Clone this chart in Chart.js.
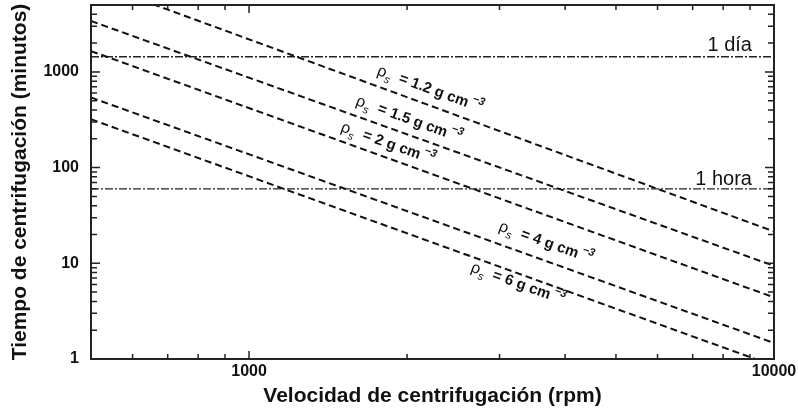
<!DOCTYPE html>
<html lang="es">
<head>
    <meta charset="UTF-8">
    <title>Tiempo de centrifugación</title>
    <script src="https://cdn.jsdelivr.net/npm/chart.js@4"></script>
    <style>
        body { margin: 0; background: #fff; }
        canvas { display: block; }
    </style>
</head>
<body>
    <canvas id="grafico" width="798" height="414"></canvas>

    <script>
        // velocidad (rpm) en los extremos del eje
        const rpm = [500, 10000];
        const t12 = [8800, 21.5];
        const t15 = [3400, 9.4];
        const t20 = [1650, 4.4];
        const t40 = [540, 1.47];
        const t60 = [320, 0.85];
        const densidades = ['1.2', '1.5', '2', '4', '6'];

        // lineas de referencia
        const refTiempos = [1440, 60];
        const refTextos = ['1 día', '1 hora'];

        // posicion (datos) de las etiquetas
        const etiquetaRpm = [2213, 2017, 1840, 3679, 3253];
        const etiquetaMin = [656, 318, 178, 16.4, 6.1];
        const refEtiquetaRpm = [9080, 9080];
        const refEtiquetaMin = [1640, 66.4];

        const xMayores = [1000, 10000];
        const yMayores = [1, 10, 100, 1000];

        const FUENTE = '"Liberation Sans", Arial, sans-serif';
        const series = [t12, t15, t20, t40, t60];

        const datasets = series.map((t, i) => ({
            label: densidades[i],
            data: rpm.map((r, j) => ({ x: r, y: t[j] })),
            borderColor: '#111',
            borderWidth: 2,
            borderDash: [7, 4],
            pointRadius: 0,
            fill: false
        }));
        refTiempos.forEach((v, i) => {
            datasets.push({
                label: refTextos[i],
                data: rpm.map(r => ({ x: r, y: v })),
                borderColor: '#222',
                borderWidth: 1.3,
                borderDash: [8, 2, 2, 2],
                pointRadius: 0,
                fill: false
            });
        });

        function menores(min, max) {
            const out = [];
            for (let d = 1; d <= max; d *= 10) {
                for (let k = 1; k < 10; k++) {
                    const v = k * d;
                    if (v >= min && v <= max) out.push(v);
                }
            }
            return out;
        }

        const marco = {
            id: 'marco',
            afterDraw(chart) {
                const ctx = chart.ctx;
                const a = chart.chartArea;
                const sx = chart.scales.x, sy = chart.scales.y;
                ctx.save();
                ctx.strokeStyle = '#222';
                ctx.lineWidth = 1.5;
                // marcas del eje x (abajo y arriba, hacia dentro)
                menores(500, 10000).forEach(v => {
                    const x = sx.getPixelForValue(v);
                    const l = xMayores.includes(v) ? 8 : 5;
                    ctx.beginPath();
                    ctx.moveTo(x, a.bottom); ctx.lineTo(x, a.bottom - l);
                    ctx.moveTo(x, a.top); ctx.lineTo(x, a.top + l);
                    ctx.stroke();
                });
                menores(1, 5000).forEach(v => {
                    const y = sy.getPixelForValue(v);
                    const l = yMayores.includes(v) ? 9 : 6;
                    ctx.beginPath();
                    ctx.moveTo(a.left, y); ctx.lineTo(a.left + l, y);
                    ctx.moveTo(a.right, y); ctx.lineTo(a.right - l, y);
                    ctx.stroke();
                });
                ctx.lineWidth = 2;
                ctx.strokeRect(a.left, a.top, a.right - a.left, a.bottom - a.top);

                // etiquetas de densidad a lo largo de las rectas
                series.forEach((t, i) => {
                    const x0 = sx.getPixelForValue(rpm[0]), y0 = sy.getPixelForValue(t[0]);
                    const x1 = sx.getPixelForValue(rpm[1]), y1 = sy.getPixelForValue(t[1]);
                    const ang = Math.atan2(y1 - y0, x1 - x0);
                    const px = sx.getPixelForValue(etiquetaRpm[i]);
                    const py = sy.getPixelForValue(etiquetaMin[i]);
                    const partes = [
                        { s: 'ρ', f: '16px ' + FUENTE, dy: 0 },
                        { s: 's', f: 'italic 11px ' + FUENTE, dy: 6 },
                        { s: '  = ' + densidades[i] + ' g cm', f: 'bold 15px ' + FUENTE, dy: 0 },
                        { s: ' −3', f: 'italic bold 11px ' + FUENTE, dy: -6 }
                    ];
                    let w = 0;
                    partes.forEach(p => { ctx.font = p.f; p.w = ctx.measureText(p.s).width; w += p.w; });
                    ctx.save();
                    ctx.translate(px, py);
                    ctx.rotate(ang);
                    ctx.fillStyle = '#111';
                    ctx.textBaseline = 'middle';
                    let cx = -w / 2;
                    partes.forEach(p => {
                        ctx.font = p.f;
                        ctx.fillText(p.s, cx, p.dy);
                        cx += p.w;
                    });
                    ctx.restore();
                });

                // textos de las lineas de referencia
                ctx.fillStyle = '#111';
                ctx.font = '20px ' + FUENTE;
                ctx.textAlign = 'right';
                ctx.textBaseline = 'alphabetic';
                refTextos.forEach((txt, i) => {
                    ctx.fillText(txt, sx.getPixelForValue(refEtiquetaRpm[i]), sy.getPixelForValue(refEtiquetaMin[i]));
                });
                ctx.restore();
            }
        };

        new Chart(document.getElementById('grafico'), {
            type: 'line',
            data: { datasets: datasets },
            plugins: [marco],
            options: {
                responsive: false,
                animation: false,
                layout: { padding: { top: 5, right: 24, left: 0, bottom: 0 } },
                plugins: { legend: { display: false }, tooltip: { enabled: false } },
                scales: {
                    x: {
                        type: 'logarithmic',
                        min: 500,
                        max: 10000,
                        grid: { display: false, drawTicks: false },
                        border: { display: false },
                        afterBuildTicks: s => { s.ticks = xMayores.map(v => ({ value: v })); },
                        afterFit: s => { s.height = 55; s.paddingLeft = 0; s.paddingRight = 0; },
                        ticks: {
                            color: '#111',
                            font: { family: FUENTE, size: 16, weight: 'bold' },
                            padding: 3,
                            maxRotation: 0,
                            autoSkip: false,
                            callback: v => String(v)
                        },
                        title: {
                            display: true,
                            text: 'Velocidad de centrifugación (rpm)',
                            color: '#111',
                            font: { family: FUENTE, size: 21, weight: 'bold' },
                            padding: { top: 0, bottom: 5 }
                        }
                    },
                    y: {
                        type: 'logarithmic',
                        min: 1,
                        max: 5000,
                        grid: { display: false, drawTicks: false },
                        border: { display: false },
                        afterBuildTicks: s => { s.ticks = yMayores.map(v => ({ value: v })); },
                        afterFit: s => { s.width = 91; s.paddingTop = 0; s.paddingBottom = 0; },
                        ticks: {
                            color: '#111',
                            font: { family: FUENTE, size: 16, weight: 'bold' },
                            padding: 12,
                            autoSkip: false,
                            callback: v => String(v)
                        },
                        title: {
                            display: true,
                            text: 'Tiempo de centrifugación (minutos)',
                            color: '#111',
                            font: { family: FUENTE, size: 21, weight: 'bold' },
                            padding: { top: 8, bottom: 0 }
                        }
                    }
                }
            }
        });
    </script>
</body>
</html>
